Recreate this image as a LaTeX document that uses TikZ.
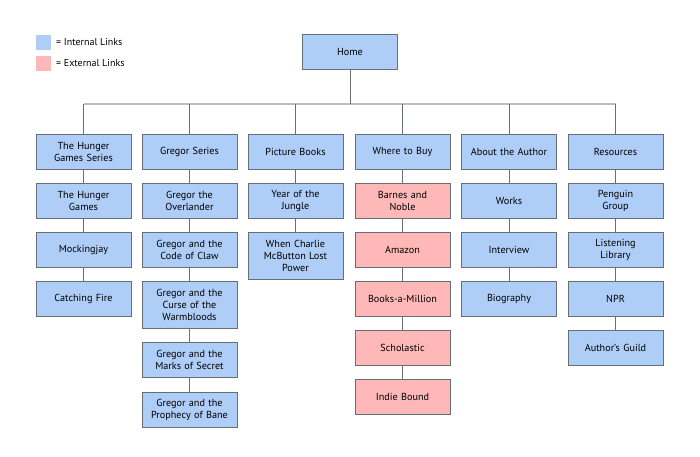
\documentclass[tikz,border=0pt]{standalone}
\usepackage{fontspec}
\setmainfont{PT Sans}
\definecolor{intblue}{HTML}{AECEF7}
\definecolor{extpink}{HTML}{FFB8B8}
\definecolor{edgegray}{HTML}{686E75}
\definecolor{busgray}{HTML}{BDBDBD}
\begin{document}
\begin{tikzpicture}[x=1pt,y=-1pt,
  box/.style={draw=edgegray,line width=0.9pt,minimum width=95pt,minimum height=35pt,inner sep=1pt,
    align=center,font=\fontsize{10.2}{12}\selectfont,text width=93pt},
  int/.style={box,fill=intblue},
  ext/.style={box,fill=extpink},
  link/.style={draw=edgegray,line width=0.8pt},
  bus/.style={draw=busgray,line width=2pt},
  legtext/.style={anchor=west,inner sep=0pt,font=\fontsize{10}{12}\selectfont}]
\useasboundingbox (0,0) rectangle (700,456);
% legend
\fill[intblue] (36,35) rectangle (51,50);
\fill[extpink] (36,56) rectangle (51,71);
\node[legtext] (lint) at (56,42.5) {= Internal Links};
\node[legtext] (lext) at (56,63.5) {= External Links};
% home
\node[int] (home) at (350,52) {Home};
% level 1
\node[int] (hg) at (83.5,151.5) {The Hunger\\Games Series};
\node[int] (gs) at (189.5,151.5) {Gregor Series};
\node[int] (pb) at (295.5,151.5) {Picture Books};
\node[int] (wb) at (402.5,151.5) {Where to Buy};
\node[int] (aa) at (509,151.5) {About the Author};
\node[int] (rs) at (615.5,151.5) {Resources};
% bus
\coordinate (busL) at (83.5,103.5);
\coordinate (busR) at (615.5,103.5);
\coordinate (busH) at (350,103.5);
\draw[bus] (busL) -- (busR);
\draw[link] (home.south) -- (busH);
\foreach \n in {hg,gs,pb,wb,aa,rs} {\draw[link] (\n.north) -- (\n.north |- busL);}
% hunger games column
\node[int] (hg1) at (83.5,200.5) {The Hunger\\Games};
\node[int] (hg2) at (83.5,249.5) {Mockingjay};
\node[int] (hg3) at (83.5,298.5) {Catching Fire};
\draw[link] (hg) -- (hg1);
\draw[link] (hg1) -- (hg2);
\draw[link] (hg2) -- (hg3);
% gregor column
\node[int] (g1) at (189.5,200.5) {Gregor the\\Overlander};
\node[int] (g2) at (189.5,249.5) {Gregor and the\\Code of Claw};
\node[int,minimum height=47pt] (g3) at (189.5,304.5) {Gregor and the\\Curse of the\\Warmbloods};
\node[int] (g4) at (189.5,359.5) {Gregor and the\\Marks of Secret};
\node[int] (g5) at (189.5,409.5) {Gregor and the\\Prophecy of Bane};
\draw[link] (gs) -- (g1);
\draw[link] (g1) -- (g2);
\draw[link] (g2) -- (g3);
\draw[link] (g3) -- (g4);
\draw[link] (g4) -- (g5);
% picture books
\node[int] (p1) at (295.5,200.5) {Year of the\\Jungle};
\node[int,minimum height=47pt] (p2) at (295.5,255.5) {When Charlie\\McButton Lost\\Power};
\draw[link] (pb) -- (p1);
\draw[link] (p1) -- (p2);
% where to buy
\node[ext] (w1) at (402.5,200.5) {Barnes and\\Noble};
\node[ext] (w2) at (402.5,249.5) {Amazon};
\node[ext] (w3) at (402.5,298.5) {Books-a-Million};
\node[ext] (w4) at (402.5,347.5) {Scholastic};
\node[ext] (w5) at (402.5,396.5) {Indie Bound};
\draw[link] (wb) -- (w1);
\draw[link] (w1) -- (w2);
\draw[link] (w2) -- (w3);
\draw[link] (w3) -- (w4);
\draw[link] (w4) -- (w5);
% about the author
\node[int] (a1) at (509,200.5) {Works};
\node[int] (a2) at (509,249.5) {Interview};
\node[int] (a3) at (509,298.5) {Biography};
\draw[link] (aa) -- (a1);
\draw[link] (a1) -- (a2);
\draw[link] (a2) -- (a3);
% resources
\node[int] (r1) at (615.5,200.5) {Penguin\\Group};
\node[int] (r2) at (615.5,249.5) {Listening\\Library};
\node[int] (r3) at (615.5,298.5) {NPR};
\node[int] (r4) at (615.5,347.5) {Author’s Guild};
\draw[link] (rs) -- (r1);
\draw[link] (r1) -- (r2);
\draw[link] (r2) -- (r3);
\draw[link] (r3) -- (r4);
\end{tikzpicture}
\end{document}
